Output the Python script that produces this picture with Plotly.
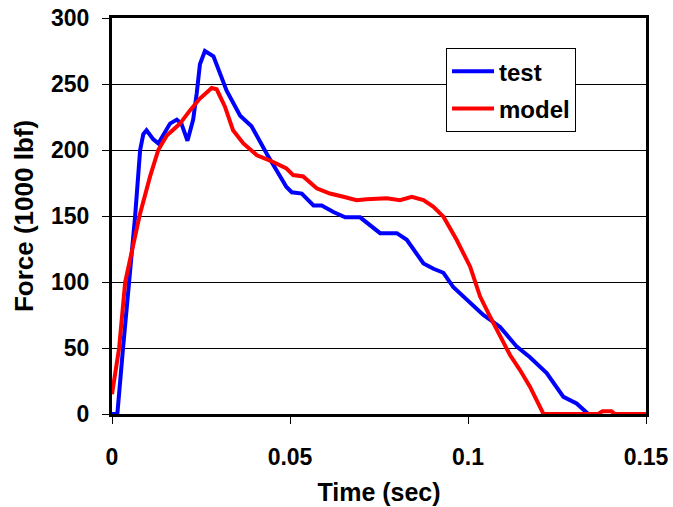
import plotly.graph_objects as go

# ---- data ----
test_t = [0, 0.0015, 0.0031, 0.0048, 0.0065, 0.0079, 0.0088, 0.0097, 0.0116, 0.013,
          0.0163, 0.0182, 0.0195, 0.0212, 0.0228, 0.0238, 0.0247, 0.0261, 0.0285,
          0.0322, 0.036, 0.0392, 0.0435, 0.049, 0.0505, 0.0533, 0.0566, 0.0589,
          0.0622, 0.0655, 0.0697, 0.0753, 0.080, 0.0828, 0.0875, 0.0903, 0.0931,
          0.0959, 0.0996, 0.1043, 0.109, 0.1137, 0.1174, 0.1221, 0.1268, 0.1305,
          0.1338, 0.137]
test_f = [0, 0, 50, 100, 150, 200, 212, 215, 208, 205,
          220, 223, 220, 207, 223, 243, 265, 275, 271,
          245, 226, 218, 197, 172, 168, 167, 158, 158,
          153, 149, 149, 137, 137, 132, 114, 110, 107,
          96, 87, 75, 66, 51, 43, 31, 13, 8,
          0, 0]

model_t = [0, 0.002, 0.0037, 0.0057, 0.0079, 0.0107, 0.013, 0.0154, 0.0191, 0.0219,
           0.0247, 0.028, 0.0294, 0.0317, 0.034, 0.0369, 0.0407, 0.0444, 0.049,
           0.0509, 0.0537, 0.0575, 0.0612, 0.065, 0.0687, 0.0715, 0.0772, 0.0809,
           0.0842, 0.0875, 0.0903, 0.0931, 0.0968, 0.1006, 0.1034, 0.1062, 0.109,
           0.1118, 0.1146, 0.1174, 0.1212, 0.1365, 0.1378, 0.1403, 0.1413, 0.15]
model_f = [15, 50, 100, 124, 152, 180, 200, 211, 220, 230,
           239, 247, 246, 233, 215, 205, 196, 192, 186,
           181, 180, 171, 167, 164.6, 162, 162.6, 163.4, 162,
           164.6, 162, 157, 149.5, 132, 111.6, 89, 73.7, 58.6,
           44.7, 33.3, 20.7, 0, 0, 2, 2, 0, 0]

x_tickvals = [0, 0.05, 0.1, 0.15]
x_ticktext = ["0", "0.05", "0.1", "0.15"]
y_tickvals = [0, 50, 100, 150, 200, 250, 300]
y_ticktext = ["0", "50", "100", "150", "200", "250", "300"]

FONT = "Arial, 'Liberation Sans', sans-serif"

fig = go.Figure()
fig.add_trace(go.Scatter(x=test_t, y=test_f, mode="lines", name="test",
                         line=dict(color="#0000FF", width=4), legendgroup="g1"))
fig.add_trace(go.Scatter(x=model_t, y=model_f, mode="lines", name="model",
                         line=dict(color="#FF0000", width=4), legendgroup="g2"))

fig.update_layout(
    width=673, height=507,
    margin=dict(l=112, r=27, t=18, b=93, autoexpand=False),
    paper_bgcolor="white", plot_bgcolor="white",
    font=dict(family=FONT, size=23, color="black", weight="bold"),
    showlegend=True,
    legend=dict(
        x=0.6255, y=0.924, xanchor="left", yanchor="top",
        bgcolor="white", bordercolor="black", borderwidth=1,
        font=dict(family=FONT, size=24, color="black", weight="bold"),
        itemwidth=42, traceorder="grouped", tracegroupgap=3,
    ),
)
fig.update_xaxes(
    range=[0, 0.15], tickvals=x_tickvals, ticktext=x_ticktext,
    showgrid=False, zeroline=False, automargin=False,
    showline=True, linecolor="black", linewidth=3, mirror=True,
    ticks="outside", ticklen=7, tickwidth=1, tickcolor="black",
    ticklabelstandoff=13,
    tickfont=dict(family=FONT, size=23, weight="bold"),
    title=dict(text="Time (sec)", font=dict(family=FONT, size=25, weight="bold"), standoff=15),
)
fig.update_yaxes(
    range=[0, 300], tickvals=y_tickvals, ticktext=y_ticktext,
    showgrid=True, gridcolor="black", gridwidth=1, zeroline=False, automargin=False,
    showline=True, linecolor="black", linewidth=3, mirror=True,
    ticks="outside", ticklen=7, tickwidth=1, tickcolor="black",
    ticklabelstandoff=8,
    tickfont=dict(family=FONT, size=23, weight="bold"),
    title=dict(text="Force (1000 lbf)", font=dict(family=FONT, size=26, weight="bold"), standoff=10),
)

fig.write_html("out.html", config={"displayModeBar": False},
               post_script="document.body.style.margin='0';")
